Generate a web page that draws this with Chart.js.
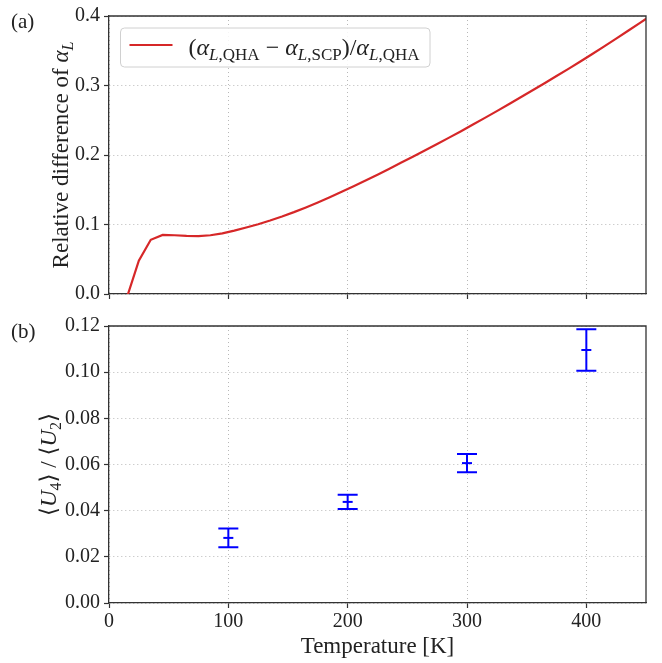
<!DOCTYPE html>
<html>
<head>
<meta charset="utf-8">
<script src="https://cdn.jsdelivr.net/npm/chart.js@4.4.1/dist/chart.umd.min.js"></script>
<style>
html, body { margin: 0; padding: 0; background: #fff; }
#wrap { position: relative; width: 662px; height: 663px; }
.panel { position: absolute; left: 0; width: 662px; }
#pa { top: 0; height: 310px; }
#pb { top: 310px; height: 353px; }
</style>
</head>
<body>
<div id="wrap">
  <div class="panel" id="pa"><canvas id="chartA"></canvas></div>
  <div class="panel" id="pb"><canvas id="chartB"></canvas></div>
</div>
<script>
// panel (a): relative difference of alpha_L vs temperature
const tempA = [15, 25, 35, 45, 55, 65, 75, 85, 95, 105, 115, 125, 135, 145, 155, 165, 175, 185, 195,
  205, 215, 225, 235, 245, 255, 265, 275, 285, 295, 305, 315, 325, 335, 345, 355, 365, 375, 385,
  395, 405, 415, 425, 435, 445, 455];
const relDiff = [-0.005, 0.048, 0.078, 0.085, 0.0845, 0.0835, 0.0832, 0.0845, 0.0873, 0.0912, 0.0956,
  0.1004, 0.1057, 0.1115, 0.1178, 0.1246, 0.1318, 0.1393, 0.1471, 0.1551, 0.1633, 0.1717, 0.1803,
  0.1891, 0.1978, 0.2067, 0.2158, 0.2250, 0.2343, 0.2438, 0.2534, 0.2631, 0.2730, 0.2830, 0.2931,
  0.3033, 0.3136, 0.3240, 0.3346, 0.3453, 0.3563, 0.3675, 0.3788, 0.3902, 0.4017];

// panel (b): <U4>/<U2> with error bars
const tempB = [100, 200, 300, 400];
const u4u2 = [0.0282, 0.0438, 0.0606, 0.1096];
const u4u2Err = [0.0041, 0.0031, 0.0040, 0.0090];

// ticks
const xTicks = [0, 100, 200, 300, 400];
const yTicksA = [0, 0.1, 0.2, 0.3, 0.4];
const yTicksB = [0, 0.02, 0.04, 0.06, 0.08, 0.10, 0.12];

const SERIF = '"Liberation Serif", "DejaVu Serif", serif';
const AXIS = '#333';
const GRID = '#b8b8b8';

function fontFor(p, size) {
  let s = p.sub ? Math.round(size * 0.7) : size;
  return (p.it ? 'italic ' : '') + s + 'px ' + SERIF;
}

function richWidth(ctx, parts, size) {
  let w = 0;
  parts.forEach(p => { ctx.font = fontFor(p, size); w += ctx.measureText(p.t).width; });
  return w;
}

function drawRich(ctx, parts, x, y, size, center) {
  let cx = center ? x - richWidth(ctx, parts, size) / 2 : x;
  ctx.textBaseline = 'alphabetic';
  ctx.textAlign = 'left';
  parts.forEach(p => {
    ctx.font = fontFor(p, size);
    ctx.fillText(p.t, cx, y + (p.sub ? size * 0.22 : 0));
    cx += ctx.measureText(p.t).width;
  });
}

const legendParts = [
  {t: '('}, {t: 'α', it: true}, {t: 'L', it: true, sub: true}, {t: ',QHA', sub: true},
  {t: ' − '}, {t: 'α', it: true}, {t: 'L', it: true, sub: true}, {t: ',SCP', sub: true},
  {t: ')/'}, {t: 'α', it: true}, {t: 'L', it: true, sub: true}, {t: ',QHA', sub: true}
];
const yTitleA = [{t: 'Relative difference of '}, {t: 'α', it: true}, {t: 'L', it: true, sub: true}];
const yTitleB = [{t: '⟨'}, {t: 'U', it: true}, {t: '4', sub: true}, {t: '⟩ / ⟨'}, {t: 'U', it: true}, {t: '2', sub: true}, {t: '⟩'}];

function xScale(showLabels) {
  return {
    type: 'linear',
    min: 0,
    max: 450,
    afterBuildTicks: s => { s.ticks = xTicks.map(v => ({value: v})); },
    afterFit: s => { s.height = showLabels ? 60 : 16; },
    ticks: {
      display: showLabels,
      padding: 2,
      maxRotation: 0,
      color: '#222',
      font: {family: SERIF, size: 20},
      callback: v => String(v)
    },
    grid: {color: GRID, lineWidth: 1, tickLength: 5, tickColor: AXIS, tickWidth: 1.2},
    border: {color: AXIS, width: 1.3, dash: [1, 3]},
    title: {
      display: showLabels,
      text: 'Temperature [K]',
      color: '#222',
      font: {family: SERIF, size: 23},
      padding: {top: 0, bottom: 2}
    }
  };
}

function yScale(ticks, max, digits) {
  return {
    min: 0,
    max: max,
    afterBuildTicks: s => { s.ticks = ticks.map(v => ({value: v})); },
    afterFit: s => { s.width = 109; },
    ticks: {
      padding: 4,
      color: '#222',
      font: {family: SERIF, size: 20},
      callback: v => Number(v).toFixed(digits)
    },
    grid: {color: GRID, lineWidth: 1, tickLength: 5, tickColor: AXIS, tickWidth: 1.2},
    border: {color: AXIS, width: 1.3, dash: [1, 3]}
  };
}

// top/right spines + panel letter + rotated y title
function framePlugin(letter, titleParts, titleX, titleSize) {
  return {
    id: 'frame' + letter,
    afterDraw(chart) {
      const ctx = chart.ctx;
      const a = chart.chartArea;
      ctx.save();
      ctx.strokeStyle = AXIS;
      ctx.lineWidth = 1.3;
      ctx.beginPath();
      ctx.moveTo(a.left, a.top);
      ctx.lineTo(a.right, a.top);
      ctx.lineTo(a.right, a.bottom);
      ctx.stroke();

      ctx.fillStyle = '#222';
      ctx.font = '21px ' + SERIF;
      ctx.textAlign = 'left';
      ctx.textBaseline = 'alphabetic';
      ctx.fillText(letter, 11, a.top + 12);

      ctx.translate(titleX, (a.top + a.bottom) / 2);
      ctx.rotate(-Math.PI / 2);
      drawRich(ctx, titleParts, 0, titleSize * 0.35, titleSize, true);
      ctx.restore();
    }
  };
}

const legendPlugin = {
  id: 'richLegend',
  afterDraw(chart) {
    const ctx = chart.ctx;
    const a = chart.chartArea;
    const bx = a.left + 11.5, by = a.top + 12, bw = 309.5, bh = 39;
    ctx.save();
    ctx.fillStyle = 'rgba(255,255,255,0.85)';
    ctx.strokeStyle = '#d0d0d0';
    ctx.lineWidth = 1;
    ctx.beginPath();
    ctx.roundRect(bx, by, bw, bh, 4);
    ctx.fill();
    ctx.stroke();
    ctx.strokeStyle = '#d62728';
    ctx.lineWidth = 2.2;
    ctx.beginPath();
    ctx.moveTo(bx + 9, by + 17);
    ctx.lineTo(bx + 52, by + 17);
    ctx.stroke();
    ctx.fillStyle = '#222';
    drawRich(ctx, legendParts, bx + 68, by + 27, 24, false);
    ctx.restore();
  }
};

const errorBarPlugin = {
  id: 'errorBars',
  afterDatasetsDraw(chart) {
    const ctx = chart.ctx;
    const xs = chart.scales.x, ys = chart.scales.y;
    ctx.save();
    ctx.strokeStyle = '#0000ff';
    ctx.lineWidth = 2;
    tempB.forEach((t, i) => {
      const x = xs.getPixelForValue(t);
      const lo = ys.getPixelForValue(u4u2[i] - u4u2Err[i]);
      const hi = ys.getPixelForValue(u4u2[i] + u4u2Err[i]);
      ctx.beginPath();
      ctx.moveTo(x, lo); ctx.lineTo(x, hi);
      ctx.moveTo(x - 10, lo); ctx.lineTo(x + 10, lo);
      ctx.moveTo(x - 10, hi); ctx.lineTo(x + 10, hi);
      ctx.stroke();
    });
    ctx.restore();
  }
};

new Chart(document.getElementById('chartA'), {
  type: 'line',
  data: {
    datasets: [{
      label: '(αL,QHA − αL,SCP)/αL,QHA',
      data: tempA.map((t, i) => ({x: t, y: relDiff[i]})),
      borderColor: '#d62728',
      borderWidth: 2.2,
      pointRadius: 0,
      tension: 0,
      fill: false
    }]
  },
  options: {
    responsive: true,
    maintainAspectRatio: false,
    animation: false,
    layout: {padding: {top: 14, right: 16, bottom: 0, left: 0}},
    plugins: {legend: {display: false}, tooltip: {enabled: false}},
    scales: {x: xScale(false), y: yScale(yTicksA, 0.4, 1)}
  },
  plugins: [framePlugin('(a)', yTitleA, 60, 23), legendPlugin]
});

new Chart(document.getElementById('chartB'), {
  type: 'scatter',
  data: {
    datasets: [{
      label: '<U4>/<U2>',
      data: tempB.map((t, i) => ({x: t, y: u4u2[i]})),
      pointStyle: 'line',
      pointRadius: 5,
      pointBorderWidth: 2,
      pointBorderColor: '#0000ff',
      pointBackgroundColor: '#0000ff',
      showLine: false
    }]
  },
  options: {
    responsive: true,
    maintainAspectRatio: false,
    animation: false,
    layout: {padding: {top: 12, right: 16, bottom: 0, left: 0}},
    plugins: {legend: {display: false}, tooltip: {enabled: false}},
    scales: {x: xScale(true), y: yScale(yTicksB, 0.12, 2)}
  },
  plugins: [framePlugin('(b)', yTitleB, 48, 23), errorBarPlugin]
});
</script>
</body>
</html>
